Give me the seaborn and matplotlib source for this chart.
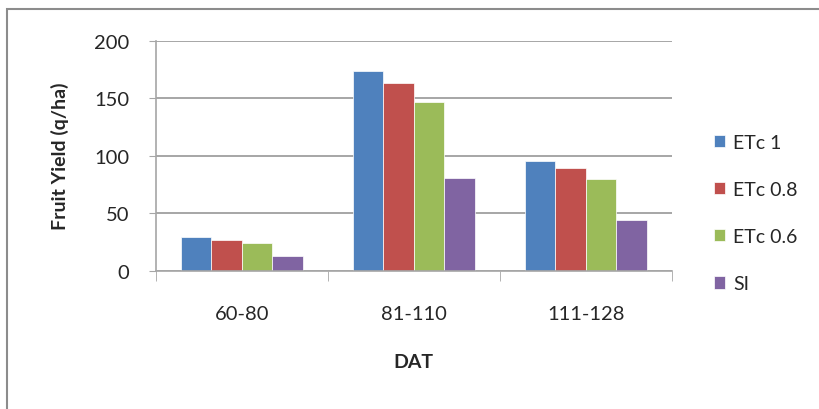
import seaborn as sns
import numpy as np
import pandas as pd
from matplotlib import pyplot as plt
from matplotlib.patches import Rectangle

# data
periods = ["60-80", "81-110", "111-128"]
treatments = ["ETc 1", "ETc 0.8", "ETc 0.6", "SI"]
etc_1 = [29, 174, 95]
etc_08 = [27, 163, 89]
etc_06 = [24.5, 147, 80]
si = [13, 81, 44.5]
colors = ["#4F81BD", "#C0504D", "#9BBB59", "#8064A2"]

df = pd.DataFrame({
    "DAT": periods * 4,
    "treatment": np.repeat(treatments, 3),
    "yield": etc_1 + etc_08 + etc_06 + si,
})

sns.set_style("white")
plt.rcParams['font.family'] = ['Lato', 'DejaVu Sans']

fig = plt.figure(figsize=(8.19, 4.10), dpi=100)
ax = fig.add_axes([155.7 / 819, 1 - 271.7 / 410, 516 / 819, 230 / 410])

sns.barplot(data=df, x="DAT", y="yield", hue="treatment", palette=colors,
            width=0.707, saturation=1, ax=ax, edgecolor="white", linewidth=0.5)

ax.set_ylim(0, 200)
ax.set_yticks([0, 50, 100, 150, 200])
ax.set_xlim(-0.5, 2.5)
ax.yaxis.grid(True, color="#a6a6a6", linewidth=1.4)
ax.set_axisbelow(True)
for s in ["top", "right"]:
    ax.spines[s].set_visible(False)
for s in ["left", "bottom"]:
    ax.spines[s].set_color("#a6a6a6")
    ax.spines[s].set_linewidth(1.2)

ax.tick_params(axis="y", length=5, color="#a6a6a6", pad=14, labelsize=14.5, left=True)
ax.tick_params(axis="x", which="major", length=0, pad=25, labelsize=14.5)
ax.set_xticks([-0.5, 0.5, 1.5, 2.5], minor=True)
ax.tick_params(axis="x", which="minor", length=7, color="#a6a6a6", bottom=True)

ax.set_ylabel("Fruit Yield (q/ha)", fontsize=14, fontweight="bold", labelpad=18)
ax.set_xlabel("DAT", fontsize=14, fontweight="bold", labelpad=22)

ax.legend(loc="center left", bbox_to_anchor=(706 / 819, 1 - 214 / 410),
          bbox_transform=fig.transFigure, frameon=False, fontsize=14,
          handlelength=0.6, handleheight=0.6, handletextpad=0.4,
          labelspacing=1.55, borderaxespad=0)

# outer chart border
fig.patches.append(Rectangle((7 / 819, -0.1), 1.2, 1.1 - 10 / 410, transform=fig.transFigure,
                             fill=False, edgecolor="#8c8c8c", linewidth=1.5))

fig.savefig("out.png", dpi=100)
